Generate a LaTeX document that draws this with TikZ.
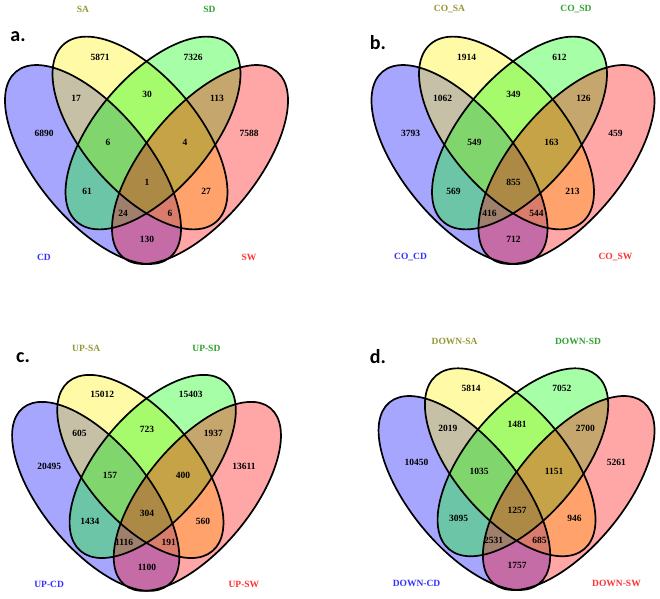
\documentclass[tikz,border=0pt]{standalone}
\usepackage{fontspec}
\setmainfont{Liberation Serif}
\newfontfamily\lettfont{Carlito}
\definecolor{labSA}{RGB}{150,150,50}
\definecolor{labSD}{RGB}{50,160,50}
\definecolor{labCD}{RGB}{50,50,255}
\definecolor{labSW}{RGB}{255,50,50}
\tikzset{
  vfill/.style={fill opacity=0.35},
  vline/.style={draw=black, line width=1.7pt},
  num/.style={font=\bfseries\fontsize{9.5}{11}\selectfont, inner sep=0pt},
  cat/.style={font=\bfseries\fontsize{9.5}{11}\selectfont, inner sep=0pt},
  plet/.style={font=\lettfont\bfseries\fontsize{20}{24}\selectfont, inner sep=0pt},
}
\newcommand{\vennpanel}[7]{%
\begin{scope}[#2]
  \fill[blue,vfill,rotate around={-50.4:(93,164.5)}] (93,164.5) ellipse [x radius=120.6,y radius=55.6];
  \fill[yellow,vfill,rotate around={-49.5:(140,133)}] (140,133) ellipse [x radius=117,y radius=57];
  \fill[green,vfill,rotate around={49.5:(153,133)}] (153,133) ellipse [x radius=117,y radius=57];
  \fill[red,vfill,rotate around={50.4:(200,164.5)}] (200,164.5) ellipse [x radius=120.6,y radius=55.6];
  \draw[vline,rotate around={-50.4:(93,164.5)}] (93,164.5) ellipse [x radius=120.6,y radius=55.6];
  \draw[vline,rotate around={-49.5:(140,133)}] (140,133) ellipse [x radius=117,y radius=57];
  \draw[vline,rotate around={49.5:(153,133)}] (153,133) ellipse [x radius=117,y radius=57];
  \draw[vline,rotate around={50.4:(200,164.5)}] (200,164.5) ellipse [x radius=120.6,y radius=55.6];
  \node[cat,text=labSA] (#1SA) at (83,9) {#3};
  \node[cat,text=labSD] (#1SD) at (209.5,9) {#4};
  \node[cat,text=labCD] (#1CD) at (44,257) {#5};
  \node[cat,text=labSW] (#1SW) at (249,257) {#6};
  \foreach \x/\y [count=\i] in {100/57,193/57,76/98,147/94,217/98,44/133,249/133,108/142,185/142,147/182,87/191,206/191,123/213,170/213,147/239}
    \coordinate (vp\i) at (\x,\y);
  \foreach \v [count=\i] in {#7}
    \node[num] (#1n\i) at (vp\i) {\v};
\end{scope}}
\begin{document}
\begin{tikzpicture}[x=1pt,y=-1pt]
  \useasboundingbox (0,0) rectangle (660,598);
  \fill[white] (0,0) rectangle (660,598);
  \vennpanel{a}{shift={(0,0)}}{SA}{SD}{CD}{SW}{5871,7326,17,30,113,6890,7588,6,4,1,61,27,24,6,130}
  \vennpanel{b}{shift={(366.5,0)}}{CO\_SA}{CO\_SD}{CO\_CD}{CO\_SW}{1914,612,1062,349,126,3793,459,549,163,855,569,213,416,544,712}
  \vennpanel{c}{shift={(7.35,340.1)},scale=0.95}{UP-SA}{UP-SD}{UP-CD}{UP-SW}{15012,15403,605,723,1937,20495,13611,157,400,304,1434,560,1116,191,1100}
  \vennpanel{d}{shift={(373.7,332.6)},scale=0.975}{DOWN-SA}{DOWN-SD}{DOWN-CD}{DOWN-SW}{5814,7052,2019,1481,2700,10450,5261,1035,1151,1257,3095,946,2531,685,1757}
  \node[plet] (la) at (18,37) {a.};
  \node[plet] (lb) at (378,43) {b.};
  \node[plet] (lc) at (23,358) {c.};
  \node[plet] (ld) at (378,357) {d.};
\end{tikzpicture}
\end{document}
